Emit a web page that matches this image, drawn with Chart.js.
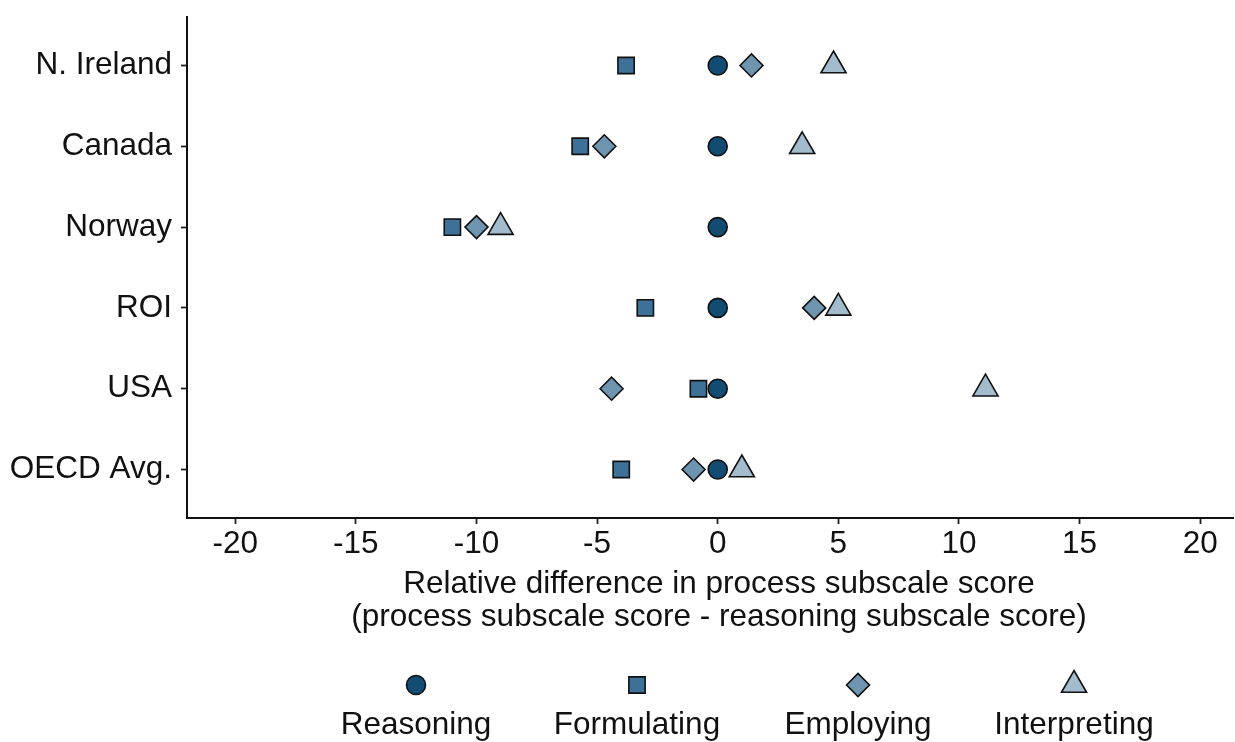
<!DOCTYPE html>
<html>
<head>
<meta charset="utf-8">
<script src="https://cdn.jsdelivr.net/npm/chart.js@4.4.1/dist/chart.umd.min.js"></script>
<style>
  html, body { margin: 0; padding: 0; background: #ffffff; }
  #wrap { width: 1235px; height: 742px; position: relative; }
</style>
</head>
<body>
<div id="wrap"><canvas id="chart" width="1235" height="742"></canvas></div>
<script>
// Countries, top to bottom
const categories = ['N. Ireland', 'Canada', 'Norway', 'ROI', 'USA', 'OECD Avg.'];

// Process subscale score minus reasoning subscale score
const reasoning    = [0, 0, 0, 0, 0, 0];
const formulating  = [-3.8, -5.7, -11.0, -3.0, -0.8, -4.0];
const employing    = [1.4, -4.7, -10.0, 4.0, -4.4, -1.0];
const interpreting = [4.8, 3.5, -9.0, 5.0, 11.1, 1.0];

const seriesNames = ['Reasoning', 'Formulating', 'Employing', 'Interpreting'];
const xTicks = [-20, -15, -10, -5, 0, 5, 10, 15, 20];
const xTitle = ['Relative difference in process subscale score',
                '(process subscale score - reasoning subscale score)'];

const FONT = "'Liberation Sans', Arial, sans-serif";
const FONT_SIZE = 31.5;
const TEXT = '#111111';

const styles = [
  { pointStyle: 'circle',   radius: 9.5,  color: '#124c72' },
  { pointStyle: 'rect',     radius: 11.5, color: '#3e7197' },
  { pointStyle: 'rectRot',  radius: 11.5, color: '#6f94b0' },
  { pointStyle: 'triangle', radius: 14.5, color: '#a2bbcd' }
];

function toPoints(values) {
  return values.map((v, i) => ({ x: v, y: i }));
}

const datasets = [reasoning, formulating, employing, interpreting].map((vals, k) => ({
  label: seriesNames[k],
  data: toPoints(vals),
  pointStyle: styles[k].pointStyle,
  pointRadius: styles[k].radius,
  pointHoverRadius: styles[k].radius,
  pointBackgroundColor: styles[k].color,
  pointBorderColor: '#111111',
  pointBorderWidth: 1.6,
  backgroundColor: styles[k].color,
  borderColor: '#111111',
  showLine: false
}));

// Keep the plot area fixed: no extra room reserved for end labels
function noEdgePadding(scale) {
  scale.paddingTop = 0;
  scale.paddingBottom = 0;
  scale.paddingLeft = 0;
  scale.paddingRight = 0;
}

// Two-line x-axis title and the legend along the bottom
const bottomText = {
  id: 'bottomText',
  afterDraw(chart) {
    const ctx = chart.ctx;
    ctx.save();
    ctx.font = FONT_SIZE + 'px ' + FONT;
    ctx.fillStyle = TEXT;
    ctx.textAlign = 'center';
    ctx.textBaseline = 'alphabetic';
    ctx.fillText(xTitle[0], 719, 593);
    ctx.fillText(xTitle[1], 719, 626);

    const xs = [416, 637, 858, 1074];
    chart.data.datasets.forEach((ds, k) => {
      const opts = {
        pointStyle: ds.pointStyle,
        radius: ds.pointRadius,
        rotation: 0,
        borderWidth: ds.pointBorderWidth
      };
      ctx.fillStyle = ds.pointBackgroundColor;
      ctx.strokeStyle = ds.pointBorderColor;
      ctx.lineWidth = ds.pointBorderWidth;
      Chart.helpers.drawPoint(ctx, opts, xs[k], 685);
      ctx.fillStyle = TEXT;
      ctx.fillText(ds.label, xs[k], 734);
    });
    ctx.restore();
  }
};

new Chart(document.getElementById('chart'), {
  type: 'scatter',
  data: { datasets },
  options: {
    responsive: false,
    animation: false,
    devicePixelRatio: 1,
    layout: { autoPadding: false, padding: { top: 17, right: 2, bottom: 0, left: 0 } },
    plugins: {
      legend: { display: false },
      tooltip: { enabled: false }
    },
    scales: {
      x: {
        type: 'linear',
        min: -22,
        max: 21.36,
        afterBuildTicks(scale) { scale.ticks = xTicks.map(v => ({ value: v })); },
        afterFit(scale) { scale.height = 224; noEdgePadding(scale); },
        grid: { drawOnChartArea: false, drawTicks: true, tickLength: 6, tickWidth: 1.8, tickColor: '#222' },
        border: { display: true, color: '#111', width: 2 },
        ticks: {
          color: TEXT,
          padding: 1,
          font: { family: FONT, size: FONT_SIZE, lineHeight: 1.2 },
          maxRotation: 0,
          autoSkip: false
        }
      },
      y: {
        type: 'linear',
        reverse: true,
        min: -0.6,
        max: 5.6,
        afterBuildTicks(scale) { scale.ticks = categories.map((c, i) => ({ value: i })); },
        afterFit(scale) { scale.width = 187; noEdgePadding(scale); },
        grid: { drawOnChartArea: false, drawTicks: true, tickLength: 6, tickWidth: 1.8, tickColor: '#222' },
        border: { display: true, color: '#111', width: 2 },
        ticks: {
          color: TEXT,
          padding: 9,
          font: { family: FONT, size: FONT_SIZE },
          autoSkip: false,
          callback: (v) => categories[v]
        }
      }
    }
  },
  plugins: [bottomText]
});
</script>
</body>
</html>
